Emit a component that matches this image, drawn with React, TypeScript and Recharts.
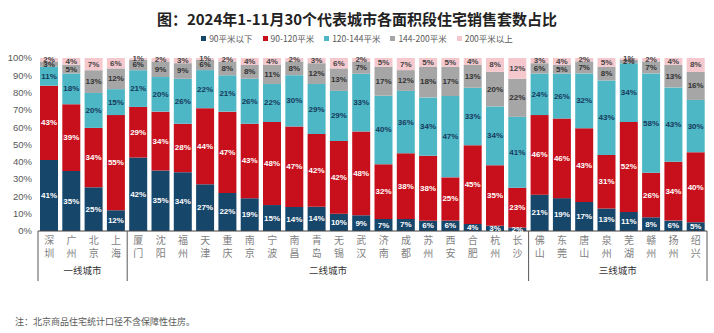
import React from 'react';
import { BarChart, Bar, XAxis, YAxis, LabelList } from 'recharts';

const cities = ['深圳','广州','北京','上海','厦门','沈阳','福州','天津','重庆','南京','宁波','南昌','青岛','无锡','武汉','济南','成都','苏州','西安','合肥','杭州','长沙','佛山','东莞','唐山','泉州','芜湖','赣州','扬州','绍兴'];
const seriesNames = ['90平米以下','90-120平米','120-144平米','144-200平米','200平米以上'];
const below90 = [41,35,25,12,42,35,34,27,22,19,15,14,14,10,9,7,7,6,6,4,3,2,21,19,17,13,11,8,6,5];
const s90to120 = [43,39,34,55,29,34,28,44,47,43,48,47,42,42,48,32,38,38,25,45,35,23,46,46,43,31,52,26,34,40];
const s120to144 = [11,18,20,15,21,20,26,22,21,26,22,30,29,29,33,40,36,34,47,33,34,41,24,26,32,43,34,58,43,30];
const s144to200 = [3,5,13,12,6,9,9,6,8,8,11,8,12,13,7,17,12,18,17,13,20,22,6,5,7,8,2,7,13,16];
const above200 = [2,4,7,6,1,2,3,1,2,4,4,2,3,6,2,5,7,5,5,4,8,12,3,4,2,5,1,2,4,8];
const groups = [
  { name: '一线城市', start: 0, count: 4 },
  { name: '二线城市', start: 4, count: 18 },
  { name: '三线城市', start: 22, count: 8 },
];
const yTicks = [0, 0.1, 0.2, 0.3, 0.4, 0.5, 0.6, 0.7, 0.8, 0.9, 1];
const title = '图：2024年1-11月30个代表城市各面积段住宅销售套数占比';
const note = '注：北京商品住宅统计口径不含保障性住房。';

const seriesValues = [below90, s90to120, s120to144, s144to200, above200];
const colors = ['#17466b', '#c8101c', '#4db7c5', '#a6a6a6', '#f5c8ce'];
const labelColors = ['#ffffff', '#ffffff', '#173a5c', '#333333', '#444444'];
const keys = ['s0', 's1', 's2', 's3', 's4'];

const data = cities.map((c, i) => {
  const row: any = { city: c };
  keys.forEach((k, j) => { row[k] = seriesValues[j][i]; });
  return row;
});

const W = 714;
const H = 333;
const M = { top: 58, right: 7, bottom: 72, left: 0 };
const YW = 38;
const BAND = (W - M.left - M.right - YW) / cities.length;
const CJK = '"Noto Sans CJK SC", "Noto Sans", sans-serif';
const LAT = '"Liberation Sans", Arial, sans-serif';

const makeLabel = (arr: number[], color: string) => (props: any) => {
  const x = Number(props.x), y = Number(props.y), w = Number(props.width), h = Number(props.height);
  const idx = props.index;
  if (idx == null || arr[idx] == null) return null;
  return (
    <text x={x + w / 2} y={y + h / 2} textAnchor="middle" dominantBaseline="central"
      fontSize={8} fontWeight="bold" fill={color} fontFamily={LAT}>
      {arr[idx]}%
    </text>
  );
};

const CityTick = (props: any) => {
  const { x, y, payload } = props;
  const idx = payload.index != null ? payload.index : props.index;
  const c = String(payload.value);
  const half = BAND / 2;
  const group = groups.find((g) => g.start === idx);
  return (
    <g>
      <text x={x} y={y + 8} textAnchor="middle" dominantBaseline="central" fontSize={10} fill="#7f7f7f" fontFamily={CJK}>{c[0]}</text>
      <text x={x} y={y + 21} textAnchor="middle" dominantBaseline="central" fontSize={10} fill="#7f7f7f" fontFamily={CJK}>{c[1]}</text>
      {group && (
        <g>
          <line x1={x - half} x2={x - half} y1={y} y2={y + 50} stroke="#595959" strokeWidth={1} />
          <text x={x - half + (group.count * BAND) / 2} y={y + 39} textAnchor="middle" dominantBaseline="central" fontSize={9.5} fill="#333" fontFamily={CJK}>{group.name}</text>
        </g>
      )}
      {idx === cities.length - 1 && (
        <line x1={x + half} x2={x + half} y1={y} y2={y + 50} stroke="#595959" strokeWidth={1} />
      )}
    </g>
  );
};

export default function App() {
  return (
    <div style={{ position: 'absolute', left: 0, top: 0, width: W, height: H, background: '#fff' }}>
      <div style={{ position: 'absolute', left: 0, top: 8, width: W, textAlign: 'center', fontFamily: CJK, fontWeight: 'bold', fontSize: 15, lineHeight: '22px', color: '#222' }}>
        {title}
      </div>
      <div style={{ position: 'absolute', left: 0, top: 31, width: W, display: 'flex', justifyContent: 'center', gap: 10, fontFamily: CJK, fontSize: 8.5, lineHeight: '14px', color: '#595959' }}>
        {seriesNames.map((n, i) => (
          <div key={n} style={{ display: 'flex', alignItems: 'center' }}>
            <span style={{ display: 'inline-block', width: 5, height: 5, background: colors[i], marginRight: 3 }} />
            <span>{n}</span>
          </div>
        ))}
      </div>
      <div style={{ position: 'absolute', left: 15, top: 314, fontFamily: CJK, fontSize: 9, lineHeight: '16px', color: '#595959' }}>
        {note}
      </div>
      <div style={{ position: 'absolute', left: 0, top: 0 }}>
        <BarChart width={W} height={H} data={data} margin={M} stackOffset="expand" barSize={18}>
          <XAxis dataKey="city" interval={0} tickSize={0} tickMargin={0} tick={CityTick} axisLine={{ stroke: '#404040' }} tickLine={false} />
          <YAxis width={YW} domain={[0, 1]} ticks={yTicks} tickFormatter={(v: number) => `${Math.round(v * 100)}%`}
            axisLine={false} tickLine={false} tickSize={4} tickMargin={2}
            tick={{ fontSize: 9.5, fill: '#595959', fontFamily: LAT }} />
          {keys.map((k, j) => (
            <Bar key={k} dataKey={k} name={seriesNames[j]} stackId="a" fill={colors[j]} isAnimationActive={false}>
              <LabelList dataKey={k} content={makeLabel(seriesValues[j], labelColors[j])} />
            </Bar>
          ))}
        </BarChart>
      </div>
    </div>
  );
}
